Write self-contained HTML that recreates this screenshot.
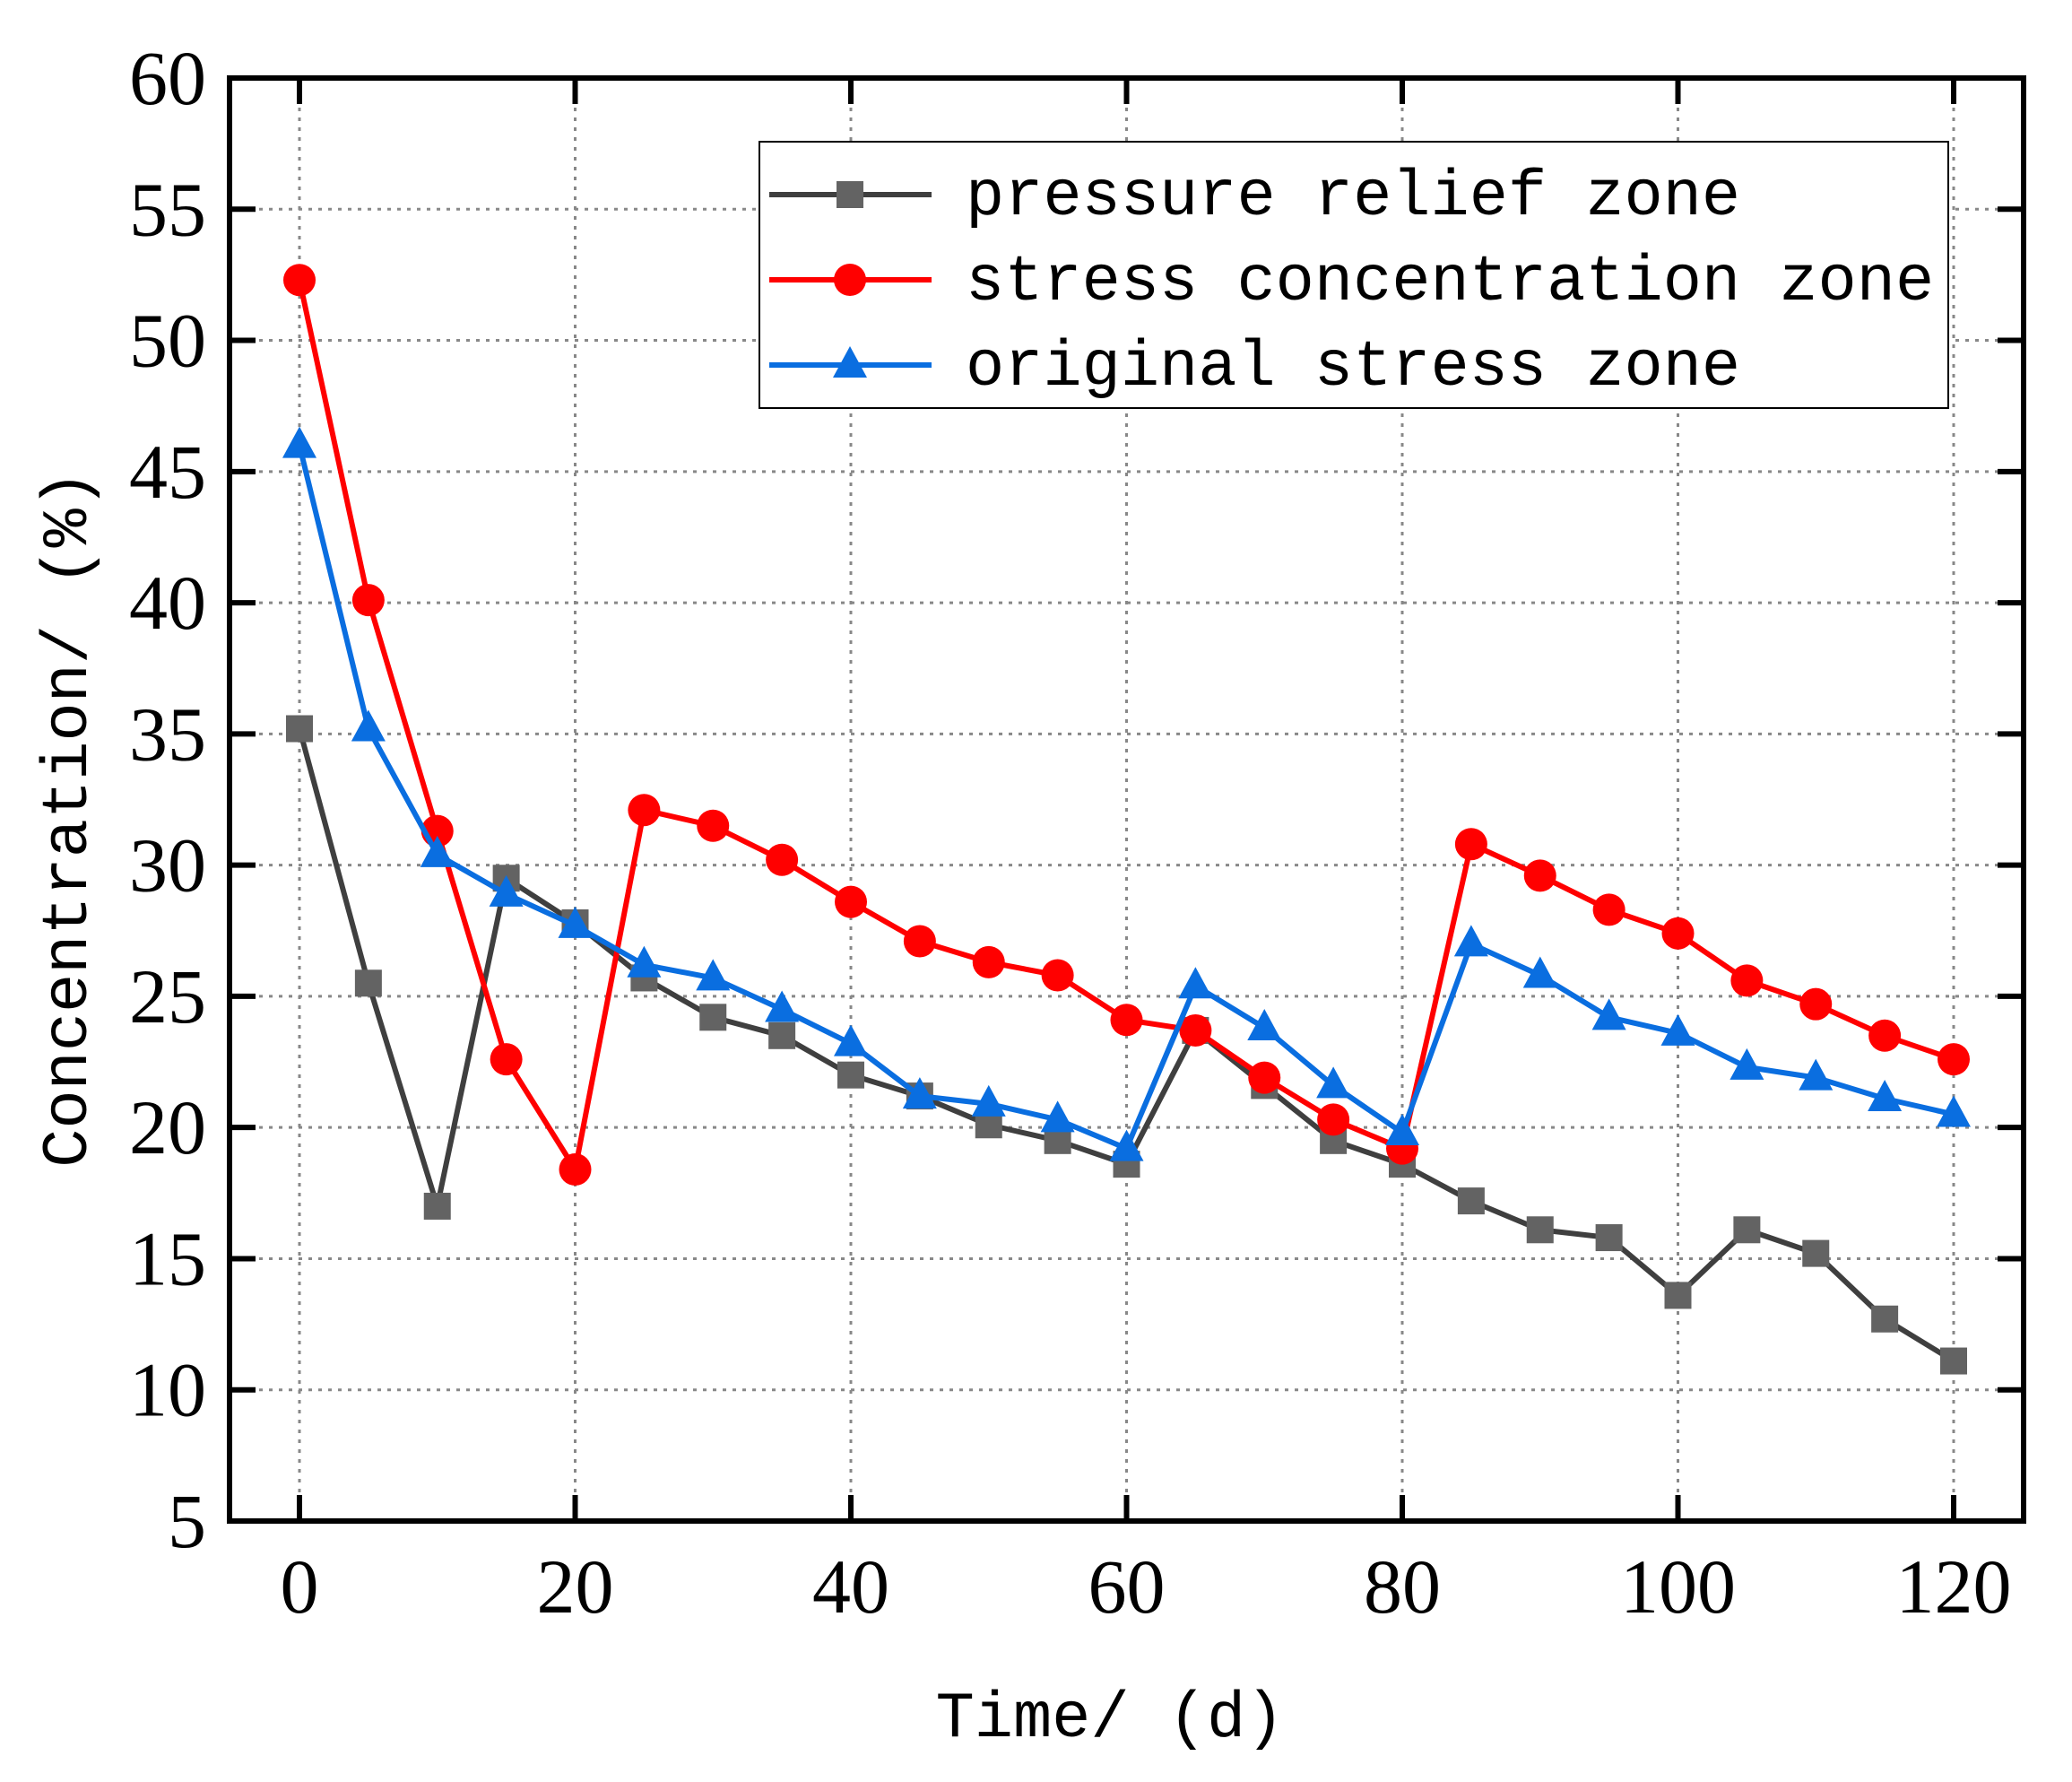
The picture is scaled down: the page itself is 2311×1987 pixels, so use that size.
<!DOCTYPE html>
<html><head><meta charset="utf-8"><style>
html,body{margin:0;padding:0;background:#fff;}
svg{display:block;}
.tick{font-family:"Liberation Serif",serif;font-size:86px;fill:#000;}
.mono{font-family:"Liberation Mono","Noto Sans CJK SC",monospace;font-size:72px;fill:#000;}
</style></head><body>
<svg id="chart" width="2311" height="1987" viewBox="0 0 2311 1987" xmlns="http://www.w3.org/2000/svg">
<g id="grid"></g>
<g id="series"></g>
<rect x="256" y="87" width="2001" height="1609" fill="none" stroke="#000" stroke-width="6"/>
<g id="ticks"></g>
<text class="mono" transform="translate(96,913) rotate(-90)" text-anchor="middle">Concentration/ (%)</text>
<text class="mono" x="1238" y="1936" text-anchor="middle">Time/ (d)</text>
<g>
<rect x="847" y="158" width="1326" height="297" fill="#fff" stroke="#000" stroke-width="2"/>
<g id="legend-items"></g>
</g>
</svg>
<script>
const times=[0,5,10,15,20,25,30,35,40,45,50,55,60,65,70,75,80,85,90,95,100,105,110,115,120];
const pressureRelief=[35.2,25.5,17.0,29.5,27.8,25.7,24.2,23.5,22.0,21.2,20.1,19.5,18.6,23.7,21.6,19.5,18.6,17.2,16.1,15.8,13.6,16.1,15.2,12.7,11.1];
const stressConcentration=[52.3,40.1,31.3,22.6,18.4,32.1,31.5,30.2,28.6,27.1,26.3,25.8,24.1,23.7,21.9,20.3,19.2,30.8,29.6,28.3,27.4,25.6,24.7,23.5,22.6];
const originalStress=[46.0,35.2,30.4,28.9,27.7,26.2,25.7,24.5,23.2,21.2,20.9,20.3,19.2,25.4,23.8,21.6,19.8,27.0,25.8,24.2,23.6,22.3,21.9,21.1,20.5];
const xTicks=[0,20,40,60,80,100,120];
const yTicks=[5,10,15,20,25,30,35,40,45,50,55,60];
const seriesNames=["pressure relief zone","stress concentration zone","original stress zone"];

const NS="http://www.w3.org/2000/svg";
const L=256,R=2257,T=87,B=1696;
const X0=334,X120=2179;
function xs(v){return X0+(v-0)*(X120-X0)/120;}
function ys(v){return B-(v-5)*(B-T)/55;}
function mk(tag,attrs,parent){const e=document.createElementNS(NS,tag);for(const k in attrs)e.setAttribute(k,attrs[k]);parent.appendChild(e);return e;}

const grid=document.getElementById('grid');
const ticks=document.getElementById('ticks');
xTicks.forEach(v=>{
  const x=xs(v);
  const g=mk('line',{x1:x,x2:x,y1:T,y2:B,stroke:'#888','stroke-width':3,'stroke-dasharray':'4 7'},grid);
  
  
  const t1=mk('line',{x1:x,x2:x,y1:B,y2:B-29,stroke:'#000','stroke-width':6},ticks);
  
  
  const t2=mk('line',{x1:x,x2:x,y1:T,y2:T+29,stroke:'#000','stroke-width':6},ticks);
  
  
  const lb=mk('text',{x:x,y:1798,'text-anchor':'middle',class:'tick'},ticks);
  lb.textContent=v;
  
  
});
yTicks.forEach(v=>{
  const y=ys(v);
  if(v>5&&v<60){
    const g=mk('line',{x1:L,x2:R,y1:y,y2:y,stroke:'#888','stroke-width':3,'stroke-dasharray':'4 7'},grid);
    
    
  }
  const t1=mk('line',{x1:L,x2:L+29,y1:y,y2:y,stroke:'#000','stroke-width':6},ticks);
  
  
  const t2=mk('line',{x1:R,x2:R-29,y1:y,y2:y,stroke:'#000','stroke-width':6},ticks);
  
  
  const lb=mk('text',{x:230,y:y+29,'text-anchor':'end',class:'tick'},ticks);
  lb.textContent=v;
  
  
});

function marker(kind,x,y,color,parent){
  let m;
  if(kind==='square') m=mk('rect',{x:x-15,y:y-15,width:30,height:30,fill:color},parent);
  else if(kind==='circle') m=mk('circle',{cx:x,cy:y,r:18,fill:color},parent);
  else m=mk('polygon',{points:`${x},${y-21} ${x-19},${y+14} ${x+19},${y+14}`,fill:color},parent);
  return m;
}
const sg=document.getElementById('series');
const defs=[
 {vals:pressureRelief,line:'#3f3f3f',mark:'#636363',kind:'square',name:'pressure-relief'},
 {vals:stressConcentration,line:'#ff0000',mark:'#ff0000',kind:'circle',name:'stress-concentration'},
 {vals:originalStress,line:'#0a6ee0',mark:'#0a6ee0',kind:'triangle',name:'original-stress'}
];
defs.forEach(d=>{
  const g=mk('g',{},sg);
  
  
  const pts=times.map((t,i)=>xs(t)+','+ys(d.vals[i])).join(' ');
  const pl=mk('polyline',{points:pts,fill:'none',stroke:d.line,'stroke-width':6,'stroke-linejoin':'round'},g);
  
  
  times.forEach((t,i)=>{
    const m=marker(d.kind,xs(t),ys(d.vals[i]),d.mark,g);
    
    
  });
});
const li=document.getElementById('legend-items');
const legY=[217,312,407];
defs.forEach((d,i)=>{
  const g=mk('g',{},li);
  
  
  mk('line',{x1:858,x2:1039,y1:legY[i],y2:legY[i],stroke:d.line,'stroke-width':6},g);
  marker(d.kind,948,legY[i],d.mark,g);
  const t=mk('text',{x:1077,y:legY[i]+22,class:'mono'},g);
  t.textContent=seriesNames[i];
});
</script>
</body></html>
